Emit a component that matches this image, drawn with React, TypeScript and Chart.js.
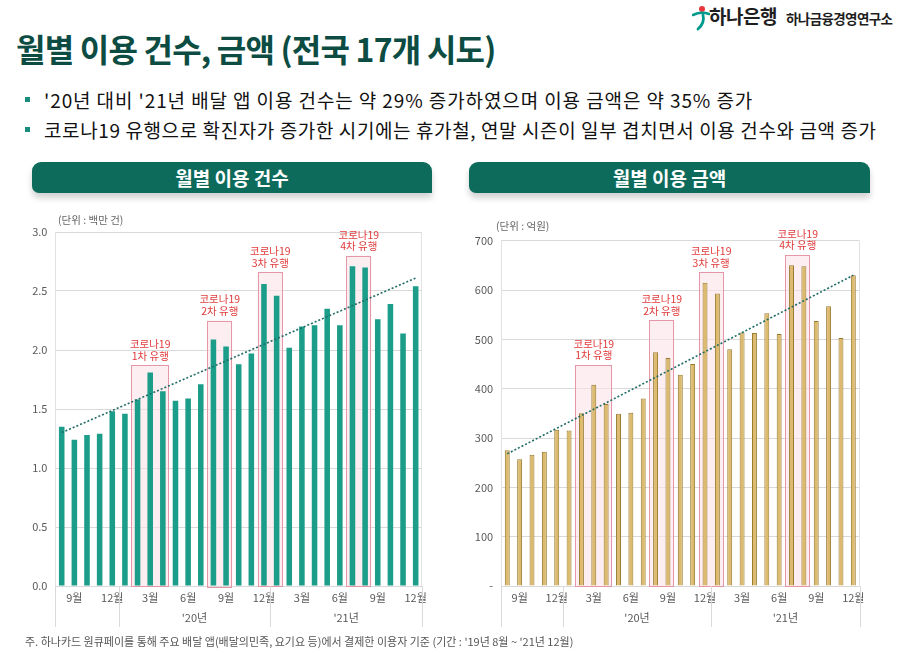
import React, { useEffect, useRef } from 'react';
import { Chart, registerables } from 'chart.js';
Chart.register(...registerables);

const FONT = "'Noto Sans CJK KR', 'Noto Sans', sans-serif";

// ---- data ----
const months = [8, 9, 10, 11, 12, 1, 2, 3, 4, 5, 6, 7, 8, 9, 10, 11, 12, 1, 2, 3, 4, 5, 6, 7, 8, 9, 10, 11, 12];
const monthLabels = months.map((m) => `${m}월`);
const shownMonths = [3, 6, 9, 12];
const yearLabels = ["'20년", "'21년"];
const yearFirst = [5, 17];
const yearLast = [16, 28];

const countValues = [1.35, 1.24, 1.28, 1.29, 1.48, 1.46, 1.58, 1.81, 1.65, 1.57, 1.59, 1.71, 2.09, 2.03, 1.88, 1.97, 2.56, 2.46, 2.02, 2.2, 2.21, 2.35, 2.21, 2.71, 2.7, 2.26, 2.39, 2.14, 2.54];
const amountValues = [275, 257, 266, 272, 317, 315, 350, 408, 369, 349, 351, 380, 474, 462, 428, 450, 615, 593, 480, 514, 513, 553, 511, 650, 648, 537, 567, 503, 630];

const countTrendEnds = [1.3, 2.61];
const amountTrendEnds = [268, 630];

const waveTitle = '코로나19';
const waveLabels = ['1차 유행', '2차 유행', '3차 유행', '4차 유행'];
const waveFirst = [6, 12, 16, 23];
const waveLast = [8, 13, 17, 24];
const countWaveTop = [1.87, 2.25, 2.66, 2.8];
const amountWaveTop = [448, 539, 636, 671];

const countMax = 3.0;
const countStep = 0.5;
const amountMax = 700;
const amountStep = 100;

function trendSeries(ends: number[]) {
  return months.map((_, i) => (i === 0 ? ends[0] : i === months.length - 1 ? ends[1] : null));
}

function makePlugin(waveTop: number[]) {
  return {
    id: 'slideDecor',
    beforeDatasetsDraw(chart: any) {
      const ctx = chart.ctx;
      const x = chart.scales.x;
      const y = chart.scales.y;
      const half = (x.getPixelForTick(1) - x.getPixelForTick(0)) / 2;
      const area = chart.chartArea;
      ctx.save();
      ctx.strokeStyle = '#e2e2e2';
      ctx.lineWidth = 1;
      ctx.beginPath();
      ctx.moveTo(Math.round(area.left) + 0.5, area.top);
      ctx.lineTo(Math.round(area.left) + 0.5, area.bottom);
      ctx.moveTo(Math.round(area.right) - 0.5, area.top);
      ctx.lineTo(Math.round(area.right) - 0.5, area.bottom);
      ctx.stroke();
      waveFirst.forEach((f, i) => {
        const l = x.getPixelForValue(f) - half;
        const r = x.getPixelForValue(waveLast[i]) + half;
        const t = y.getPixelForValue(waveTop[i]);
        const b = y.getPixelForValue(0);
        ctx.fillStyle = 'rgba(251, 228, 232, 0.6)';
        ctx.fillRect(l, t, r - l, b - t);
        ctx.strokeStyle = '#e596a8';
        ctx.lineWidth = 1;
        ctx.strokeRect(Math.round(l) + 0.5, Math.round(t) + 0.5, Math.round(r - l) - 1, Math.round(b - t));
      });
      ctx.restore();
    },
    afterDraw(chart: any) {
      const ctx = chart.ctx;
      const x = chart.scales.x;
      const y = chart.scales.y;
      const half = (x.getPixelForTick(1) - x.getPixelForTick(0)) / 2;
      const area = chart.chartArea;
      ctx.save();
      ctx.fillStyle = '#e03a3a';
      ctx.font = `10.5px ${FONT}`;
      ctx.textAlign = 'center';
      ctx.textBaseline = 'middle';
      waveFirst.forEach((f, i) => {
        const cx = (x.getPixelForValue(f) + x.getPixelForValue(waveLast[i])) / 2;
        const t = y.getPixelForValue(waveTop[i]);
        ctx.fillText(waveTitle, cx, t - 21);
        ctx.fillText(waveLabels[i], cx, t - 9.5);
      });
      const bottom = area.bottom;
      const seps = [area.left, ...yearFirst.map((f) => x.getPixelForValue(f) - half), area.right];
      ctx.strokeStyle = '#d9d9d9';
      ctx.lineWidth = 1;
      ctx.beginPath();
      seps.forEach((sx) => {
        const px = Math.round(sx) + 0.5;
        ctx.moveTo(px, bottom);
        ctx.lineTo(px, bottom + 41);
      });
      ctx.stroke();
      ctx.fillStyle = '#595959';
      ctx.font = `11px ${FONT}`;
      yearLabels.forEach((lab, i) => {
        const l = x.getPixelForValue(yearFirst[i]) - half;
        const r = x.getPixelForValue(yearLast[i]) + half;
        ctx.fillText(lab, (l + r) / 2, bottom + 32);
      });
      ctx.restore();
    },
  };
}

interface PanelProps {
  values: number[];
  trend: number[];
  waveTop: number[];
  max: number;
  step: number;
  color: string;
  border: string;
  borderWidth: number;
  barPct: number;
  padTop: number;
  padRight: number;
  yWidth: number;
  tickFmt: (v: number) => string;
  left: number;
}

function Panel(p: PanelProps) {
  const ref = useRef<HTMLCanvasElement | null>(null);
  useEffect(() => {
    if (!ref.current) return;
    const chart = new Chart(ref.current, {
      type: 'bar',
      data: {
        labels: monthLabels,
        datasets: [
          {
            type: 'line',
            data: trendSeries(p.trend),
            borderColor: '#1f6b66',
            borderWidth: 1.6,
            borderDash: [2, 2],
            pointRadius: 0,
            spanGaps: true,
            order: 0,
          } as any,
          {
            type: 'bar',
            data: p.values,
            backgroundColor: p.color,
            borderColor: p.border,
            borderWidth: p.borderWidth,
            barPercentage: p.barPct,
            categoryPercentage: 1,
            order: 1,
          },
        ],
      },
      options: {
        animation: false,
        responsive: false,
        devicePixelRatio: 1,
        layout: { padding: { top: p.padTop, right: p.padRight, left: 0, bottom: 0 } },
        plugins: { legend: { display: false }, tooltip: { enabled: false } },
        scales: {
          x: {
            grid: { display: false, drawTicks: false },
            border: { display: false },
            ticks: {
              autoSkip: false,
              maxRotation: 0,
              padding: 5,
              color: '#595959',
              font: { family: FONT, size: 11 },
              callback: (_v: any, i: number) => (shownMonths.includes(months[i]) ? monthLabels[i] : ''),
            },
            afterFit: (s: any) => {
              s.height = 54;
            },
          },
          y: {
            min: 0,
            max: p.max,
            ticks: {
              stepSize: p.step,
              padding: 8,
              color: '#595959',
              font: { family: FONT, size: 11 },
              callback: (v: any) => p.tickFmt(Number(v)),
            },
            grid: { color: '#d9d9d9', drawTicks: false },
            border: { display: false },
            afterFit: (s: any) => {
              s.width = p.yWidth;
            },
          },
        },
      },
      plugins: [makePlugin(p.waveTop)],
    });
    return () => chart.destroy();
  }, []);
  return (
    <canvas
      ref={ref}
      width={455}
      height={440}
      style={{ position: 'absolute', left: p.left, top: 200, width: 455, height: 440 }}
    />
  );
}

const abs = (s: React.CSSProperties): React.CSSProperties => ({ position: 'absolute', whiteSpace: 'nowrap', ...s });

export default function App() {
  return (
    <div style={{ position: 'absolute', left: 0, top: 0, width: 910, height: 651, background: '#fff', overflow: 'hidden', fontFamily: FONT }}>
      {/* logo */}
      <svg style={abs({ left: 692, top: 5 })} width={18} height={26} viewBox="0 0 18 26">
        <circle cx={10} cy={4} r={3} fill="#e8383d" />
        <path d="M1 10 Q9 6 17 9" stroke="#009a8c" strokeWidth={2.6} fill="none" strokeLinecap="round" />
        <path d="M11 10 Q13 18 6 24" stroke="#009a8c" strokeWidth={2.8} fill="none" strokeLinecap="round" />
      </svg>
      <div style={abs({ left: 709, top: 3, fontSize: 19, fontWeight: 700, color: '#1e1e1e', lineHeight: '26px', letterSpacing: -0.5 })}>하나은행</div>
      <div style={abs({ left: 786, top: 8, fontSize: 13.5, fontWeight: 700, color: '#1e1e1e', lineHeight: '20px', letterSpacing: -0.6 })}>하나금융경영연구소</div>

      {/* title */}
      <div style={abs({ left: 16, top: 27, fontSize: 32, fontWeight: 700, color: '#0c4c42', lineHeight: '42px', letterSpacing: -0.8 })}>
        월별 이용 건수, 금액 (전국 17개 시도)
      </div>

      {/* bullets */}
      <div style={abs({ left: 25, top: 97, width: 5, height: 5, background: '#1a8c7c' })} />
      <div style={abs({ left: 44, top: 87, fontSize: 19, color: '#111', lineHeight: '25px', letterSpacing: 0.9 })}>
        '20년 대비 '21년 배달 앱 이용 건수는 약 29% 증가하였으며 이용 금액은 약 35% 증가
      </div>
      <div style={abs({ left: 25, top: 127, width: 5, height: 5, background: '#1a8c7c' })} />
      <div style={abs({ left: 44, top: 117, fontSize: 19, color: '#111', lineHeight: '25px', letterSpacing: 0.6 })}>
        코로나19 유행으로 확진자가 증가한 시기에는 휴가철, 연말 시즌이 일부 겹치면서 이용 건수와 금액 증가
      </div>

      {/* panel headers */}
      <div style={abs({ left: 32, top: 162, width: 400, height: 31, background: '#0d6b5c', borderRadius: '9px 9px 0 7px', boxShadow: '0 5px 6px rgba(0,0,0,0.18)', color: '#fff', fontSize: 19, fontWeight: 700, textAlign: 'center', lineHeight: '31px' })}>
        월별 이용 건수
      </div>
      <div style={abs({ left: 469, top: 162, width: 401, height: 31, background: '#0d6b5c', borderRadius: '9px 9px 0 7px', boxShadow: '0 5px 6px rgba(0,0,0,0.18)', color: '#fff', fontSize: 19, fontWeight: 700, textAlign: 'center', lineHeight: '31px' })}>
        월별 이용 금액
      </div>

      <Panel
        values={countValues}
        trend={countTrendEnds}
        waveTop={countWaveTop}
        max={countMax}
        step={countStep}
        color="#1b9d89"
        border="#1b9d89"
        borderWidth={0}
        barPct={0.44}
        padTop={32}
        padRight={33}
        yWidth={55.4}
        tickFmt={(v) => v.toFixed(1)}
        left={0}
      />
      <Panel
        values={amountValues}
        trend={amountTrendEnds}
        waveTop={amountWaveTop}
        max={amountMax}
        step={amountStep}
        color="#dcbb6e"
        border="#9a7a30"
        borderWidth={1}
        barPct={0.4}
        padTop={40.7}
        padRight={50.5}
        yWidth={46.1}
        tickFmt={(v) => (v === 0 ? '-' : String(v))}
        left={455}
      />

      {/* units */}
      <div style={abs({ left: 58, top: 212, fontSize: 10.5, color: '#666', lineHeight: '16px' })}>(단위 : 백만 건)</div>
      <div style={abs({ left: 496, top: 218, fontSize: 10.5, color: '#666', lineHeight: '16px' })}>(단위 : 억원)</div>

      {/* footnote */}
      <div style={abs({ left: 25, top: 633, fontSize: 11, color: '#555', lineHeight: '16px' })}>
        주. 하나카드 원큐페이를 통해 주요 배달 앱(배달의민족, 요기요 등)에서 결제한 이용자 기준 (기간 : '19년 8월 ~ '21년 12월)
      </div>
    </div>
  );
}
